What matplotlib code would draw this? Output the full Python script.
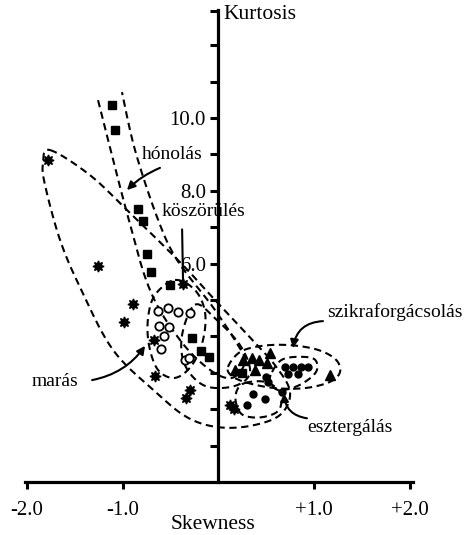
import numpy as np
import matplotlib
matplotlib.use('Agg')
import matplotlib.pyplot as plt

plt.rcParams['font.family'] = ['Liberation Serif', 'DejaVu Serif']

# pontok (skewness, kurtosis)
honolas_x = [-1.115, -1.08, -0.837, -0.785, -0.744, -0.705, -0.507, -0.273, -0.186, -0.099, 0.242]
honolas_y = [10.36, 9.67, 7.49, 7.17, 6.26, 5.78, 5.41, 3.96, 3.60, 3.43, 2.99]

koszorules_x = [-1.78, -1.26, -0.89, -0.99, -0.67, -0.37, -0.66, -0.30, -0.34, 0.12, 0.16]
koszorules_y = [8.85, 5.94, 4.89, 4.40, 3.90, 5.45, 2.91, 2.54, 2.31, 2.12, 2.01]

maras_x = [-0.63, -0.53, -0.426, -0.298, -0.62, -0.514, -0.566, -0.60, -0.35, -0.31]
maras_y = [4.70, 4.79, 4.68, 4.63, 4.29, 4.25, 4.01, 3.65, 3.34, 3.41]

szikra_x = [0.538, 0.259, 0.347, 0.426, 0.503, 0.172, 0.381, 1.164]
szikra_y = [3.55, 3.36, 3.40, 3.34, 3.27, 3.09, 3.08, 2.94]

eszterg_x = [0.695, 0.781, 0.858, 0.938, 0.729, 0.833, 0.50, 0.52, 0.363, 0.486, 0.66, 0.294]
eszterg_y = [3.15, 3.15, 3.15, 3.15, 2.96, 2.96, 2.89, 2.76, 2.43, 2.27, 2.46, 2.12]

x_ticks = [-2, -1, 1, 2]
x_labels = ['-2.0', '-1.0', '+1.0', '+2.0']
y_ticks = [1, 2, 3, 4, 5, 6, 7, 8, 9, 10, 11, 12, 12.94]
y_labels = {6: '6.0', 8: '8.0', 10: '10.0'}

# kézzel rajzolt szaggatott körvonalak (csak jelölés)
teardrop = [(-1.76, 9.12), (-1.342, 8.43), (-0.924, 7.39), (-0.402, 6.04), (-0.037, 5.00),
            (0.308, 4.03), (0.59, 3.21), (0.747, 2.47), (0.642, 1.84), (0.329, 1.54),
            (-0.016, 1.51), (-0.329, 1.78), (-0.642, 2.44), (-1.102, 3.63), (-1.446, 5.35),
            (-1.655, 6.65), (-1.812, 8.16), (-1.833, 8.76)]
band = [(-1.258, 10.49), (-0.956, 7.39), (-0.715, 5.27), (-0.402, 3.90), (-0.089, 3.08),
        (0.141, 2.86), (0.277, 3.29), (0.204, 3.76), (-0.057, 4.80), (-0.433, 6.10),
        (-0.642, 7.28), (-0.872, 9.12), (-1.008, 10.71)]
circ_loop = [(-0.454, 5.55), (-0.245, 5.27), (-0.141, 4.67), (-0.162, 3.90), (-0.277, 3.21),
             (-0.454, 2.86), (-0.632, 3.08), (-0.726, 3.76), (-0.736, 4.50), (-0.663, 5.14)]
mid_loop = [(-0.245, 4.87), (-0.037, 4.50), (0.225, 3.76), (0.329, 3.02), (0.172, 2.64),
            (-0.141, 2.64), (-0.35, 3.21), (-0.381, 4.03)]
edm_loop = [(0.099, 3.16), (0.225, 3.57), (0.454, 3.74), (0.747, 3.76), (1.039, 3.63),
            (1.227, 3.36), (1.269, 3.02), (1.164, 2.75), (0.903, 2.58), (0.590, 2.58),
            (0.308, 2.72), (0.141, 2.91)]
turn_loop1 = [(0.559, 3.02), (0.663, 3.36), (0.851, 3.44), (1.008, 3.36), (1.018, 3.02),
              (0.851, 2.67), (0.642, 2.52), (0.538, 2.72)]
turn_loop2 = [(0.277, 2.72), (0.486, 2.75), (0.642, 2.47), (0.632, 1.98), (0.454, 1.78),
              (0.256, 1.84), (0.183, 2.17), (0.193, 2.52)]


def smooth(pts, closed=True, n=20):
    # Catmull-Rom görbe a pontokon át
    p = np.asarray(pts, float)
    if closed:
        p = np.vstack([p[-1], p, p[0], p[1]])
    else:
        p = np.vstack([p[0], p, p[-1]])
    t = np.linspace(0, 1, n, endpoint=False)[:, None]
    out = []
    for i in range(1, len(p) - 2):
        p0, p1, p2, p3 = p[i - 1], p[i], p[i + 1], p[i + 2]
        out.append(0.5 * (2 * p1 + (-p0 + p2) * t + (2 * p0 - 5 * p1 + 4 * p2 - p3) * t ** 2
                          + (-p0 + 3 * p1 - 3 * p2 + p3) * t ** 3))
    out.append(p[-2][None])
    return np.vstack(out)


fig = plt.figure(figsize=(4.66, 5.35), dpi=100)
ax = fig.add_axes([0, 0, 1, 1])
ax.set_xlim(-2.282, 2.585)
ax.set_ylim(-1.456, 13.242)

for s in ['top', 'right']:
    ax.spines[s].set_visible(False)
ax.spines['left'].set_position(('data', 0))
ax.spines['bottom'].set_position(('data', 0))
ax.spines['left'].set_bounds(0, 12.97)
ax.spines['bottom'].set_bounds(-2.02, 2.03)
ax.spines['left'].set_linewidth(2.3)
ax.spines['bottom'].set_linewidth(2.3)

ax.set_xticks(x_ticks, x_labels)
ax.set_yticks(y_ticks, [y_labels.get(v, '') for v in y_ticks])
ax.tick_params(axis='both', direction='out', width=2.2, labelsize=15, color='k')
ax.tick_params(axis='x', length=5, pad=9)
ax.tick_params(axis='y', length=6, pad=3)

dash = dict(color='k', lw=1.5, ls=(0, (3.5, 2.2)), zorder=2)
for loop in [teardrop, circ_loop, mid_loop, edm_loop, turn_loop1, turn_loop2]:
    c = smooth(loop)
    ax.plot(c[:, 0], c[:, 1], **dash)
c = smooth(band, closed=False)
ax.plot(c[:, 0], c[:, 1], **dash)

ax.plot(honolas_x, honolas_y, 's', color='k', ms=5.5, zorder=3)
ax.plot(koszorules_x, koszorules_y, marker=(8, 1, 0), ls='none', color='k', ms=8, zorder=3)
ax.plot(maras_x, maras_y, 'o', mfc='white', mec='k', mew=1.3, ms=6, zorder=3)
ax.plot(szikra_x, szikra_y, '^', color='k', ms=6.5, zorder=3)
ax.plot(eszterg_x, eszterg_y, 'o', color='k', ms=5, zorder=3)

# feliratok, nyilak
arr = dict(arrowstyle='-|>', color='k', lw=1.5, mutation_scale=12, shrinkA=0, shrinkB=0)
ax.text(-0.486, 9.0, 'hónolás', fontsize=14, ha='center', va='center')
ax.annotate('', xy=(-0.956, 8.02), xytext=(-0.611, 8.63),
            arrowprops=dict(arr, connectionstyle='arc3,rad=0.1'))
ax.text(-0.162, 7.42, 'köszörülés', fontsize=14, ha='center', va='center')
ax.annotate('', xy=(-0.37, 5.45), xytext=(-0.38, 6.94),
            arrowprops=dict(arr, arrowstyle='-'))
ax.text(-1.708, 2.75, 'marás', fontsize=14, ha='center', va='center')
ax.annotate('', xy=(-0.767, 3.74), xytext=(-1.32, 2.80),
            arrowprops=dict(arr, connectionstyle='arc3,rad=0.2'))
ax.text(1.846, 4.67, 'szikraforgácsolás', fontsize=14, ha='center', va='center')
ax.annotate('', xy=(0.778, 3.68), xytext=(1.091, 4.42),
            arrowprops=dict(arr, connectionstyle='arc3,rad=0.4'))
ax.text(1.373, 1.51, 'esztergálás', fontsize=14, ha='center', va='center')
ax.annotate('', xy=(0.684, 2.44), xytext=(0.924, 1.75),
            arrowprops=dict(arr, connectionstyle='arc3,rad=-0.4'))

ax.text(0.047, 12.84, 'Kurtosis', fontsize=15.5, ha='left', va='center')
ax.text(-0.057, -1.18, 'Skewness', fontsize=15.5, ha='center', va='center')

fig.savefig('out.png', dpi=100, facecolor='white')
